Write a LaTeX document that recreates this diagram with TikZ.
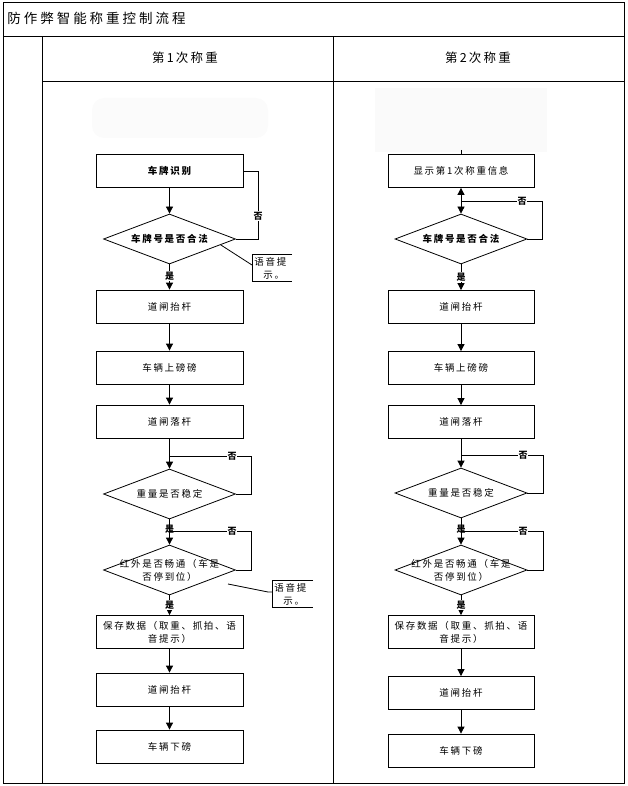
\documentclass[tikz,border=0pt]{standalone}
\usepackage{fontspec}
\setmainfont{Noto Sans CJK SC}
\newfontfamily\titlefont[LetterSpace=22]{Noto Sans CJK SC}
\newfontfamily\cjkfont[LetterSpace=18]{Noto Sans CJK SC}
\usetikzlibrary{shapes.geometric,arrows.meta,calc}
\begin{document}
\begin{tikzpicture}[x=1pt,y=-1pt,line width=0.8pt,
 box/.style={draw,minimum width=147pt,minimum height=33pt,inner sep=0pt,font=\cjkfont\fontsize{9.5}{13}\selectfont,align=center},
 rbox/.style={box,minimum width=146pt},
 dia/.style={draw,diamond,minimum width=132pt,minimum height=50pt,inner sep=0pt},
 txt/.style={font=\cjkfont\fontsize{9.5}{13}\selectfont,align=center,inner sep=0pt},
 yn/.style={font=\cjkfont\bfseries\fontsize{9}{10}\selectfont,fill=white,inner sep=0.6pt},
 arr/.style={-{Triangle[width=7pt,length=7pt]}},
 frame/.style={line width=1pt}]
\useasboundingbox (0,0) rectangle (627,786);
% faint smudges
\fill[gray!4] (375,88) rectangle (547,152);
\fill[gray!3,rounded corners=12pt] (92,98) rectangle (268,138);
% frame
\draw[frame] (3,3) rectangle (624,783);
\draw[frame] (3,37) -- (624,37);
\draw[frame] (42,82) -- (624,82);
\draw[frame] (42,37) -- (42,783);
\draw[frame] (333,37) -- (333,783);
\node[anchor=west,inner sep=0pt,font=\titlefont\fontsize{13.5}{15}\selectfont] (title) at (7,18) {防作弊智能称重控制流程};
\node[inner sep=0pt,font=\cjkfont\fontsize{12.5}{15}\selectfont] (h1) at (185,58) {第1次称重};
\node[inner sep=0pt,font=\cjkfont\fontsize{12.5}{15}\selectfont] (h2) at (478,58) {第2次称重};

% ---------- left column ----------
\node[box,font=\cjkfont\bfseries\fontsize{9.5}{13}\selectfont] (L1) at (169.5,171) {车牌识别};
\node[dia] (LD1) at (169.5,239) {};
\node[txt,font=\cjkfont\bfseries\fontsize{9.5}{13}\selectfont] (LD1t) at (LD1) {车牌号是否合法};
\node[box] (L2) at (169.5,306.5) {道闸抬杆};
\node[box] (L3) at (169.5,367.5) {车辆上磅磅};
\node[box] (L4) at (169.5,421.5) {道闸落杆};
\node[dia] (LD2) at (169.5,494) {};
\node[txt] (LD2t) at (LD2) {重量是否稳定};
\node[dia] (LD3) at (169.5,570) {};
\node[txt] (LD3t) at (LD3) {红外是否畅通（车是\\否停到位）};
\node[box] (L5) at (169.5,632) {保存数据（取重、抓拍、语\\音提示）};
\node[box] (L6) at (169.5,689.5) {道闸抬杆};
\node[box] (L7) at (169.5,746.5) {车辆下磅};

\draw[arr] (L1.south) -- (LD1.north);
\coordinate (la) at (258,171);
\coordinate (lb) at (258,239);
\draw (L1.east) -- (la) -- (lb) -- (LD1.east);
\node[yn] (n1) at (258,216) {否};
\draw[arr] (LD1.south) -- (L2.north);
\node[yn] (y1) at (169.5,276) {是};
\draw[arr] (L2.south) -- (L3.north);
\draw[arr] (L3.south) -- (L4.north);
\draw[arr] (L4.south) -- (LD2.north);
\coordinate (lc) at (251,494);
\coordinate (ld) at (251,456);
\coordinate (le) at (169.5,456);
\draw (LD2.east) -- (lc) -- (ld) -- (le);
\node[yn] (n2) at (232,456) {否};
\draw[arr] (LD2.south) -- (LD3.north);
\coordinate (lf) at (251,570);
\coordinate (lg) at (251,531);
\coordinate (lh) at (169.5,531);
\draw (LD3.east) -- (lf) -- (lg) -- (lh);
\node[yn] (n3) at (232,531) {否};
\node[yn,fill=none] (y2) at (169.5,529) {是};
\draw[arr] (LD3.south) -- (L5.north);
\node[yn] (y3) at (169.5,605) {是};
\draw[arr] (L5.south) -- (L6.north);
\draw[arr] (L6.south) -- (L7.north);

% callout 1
\coordinate (c1a) at (292,254);
\coordinate (c1b) at (252,254);
\coordinate (c1c) at (252,281);
\coordinate (c1d) at (292,281);
\draw (c1a) -- (c1b) -- (c1c) -- (c1d);
\coordinate (c1s) at ($(LD1.east)!0.23!(LD1.south)$);
\coordinate (c1e) at (252,265);
\draw (c1s) -- (c1e);
\node[txt,anchor=west] (c1t1) at (254,262) {语音提};
\node[txt,anchor=west] (c1t2) at (263,275) {示。};
% callout 2
\coordinate (c2a) at (313,580);
\coordinate (c2b) at (272,580);
\coordinate (c2c) at (272,607);
\coordinate (c2d) at (313,607);
\draw (c2a) -- (c2b) -- (c2c) -- (c2d);
\coordinate (c2s) at (228,584);
\coordinate (c2m) at (268,592);
\coordinate (c2e) at (272,592);
\draw (c2s) -- (c2m) -- (c2e);
\node[txt,anchor=west] (c2t1) at (274,588) {语音提};
\node[txt,anchor=west] (c2t2) at (283,601) {示。};

% ---------- right column ----------
\coordinate (rtop) at (461,150);
\node[rbox] (R1) at (461,171) {显示第1次称重信息};
\draw (rtop) -- (R1.north);
\node[dia] (RD1) at (461,239) {};
\node[txt,font=\cjkfont\bfseries\fontsize{9.5}{13}\selectfont] (RD1t) at (RD1) {车牌号是否合法};
\node[rbox] (R2) at (461,307) {道闸抬杆};
\node[rbox] (R3) at (461,368) {车辆上磅磅};
\node[rbox] (R4) at (461,422) {道闸落杆};
\node[dia] (RD2) at (461,493) {};
\node[txt] (RD2t) at (RD2) {重量是否稳定};
\node[dia] (RD3) at (461,570) {};
\node[txt] (RD3t) at (RD3) {红外是否畅通（车是\\否停到位）};
\node[rbox] (R5) at (461,632) {保存数据（取重、抓拍、语\\音提示）};
\node[rbox] (R6) at (461,693) {道闸抬杆};
\node[rbox] (R7) at (461,750.5) {车辆下磅};

\coordinate (J) at (461,201);
\draw[arr] (J) -- (R1.south);
\draw[arr] (J) -- (RD1.north);
\coordinate (ra) at (542,239);
\coordinate (rb) at (542,201);
\draw (RD1.east) -- (ra) -- (rb) -- (J);
\node[yn] (rn1) at (522,201) {否};
\draw[arr] (RD1.south) -- (R2.north);
\node[yn] (ry1) at (461,277) {是};
\draw[arr] (R2.south) -- (R3.north);
\draw[arr] (R3.south) -- (R4.north);
\draw[arr] (R4.south) -- (RD2.north);
\coordinate (rc) at (543,493);
\coordinate (rd) at (543,455);
\coordinate (re) at (461,455);
\draw (RD2.east) -- (rc) -- (rd) -- (re);
\node[yn] (rn2) at (523,455) {否};
\draw[arr] (RD2.south) -- (RD3.north);
\coordinate (rf) at (543,570);
\coordinate (rg) at (543,531);
\coordinate (rh) at (461,531);
\draw (RD3.east) -- (rf) -- (rg) -- (rh);
\node[yn] (rn3) at (523,531) {否};
\node[yn,fill=none] (ry2) at (461,529) {是};
\draw[arr] (RD3.south) -- (R5.north);
\node[yn] (ry3) at (461,605) {是};
\draw[arr] (R5.south) -- (R6.north);
\draw[arr] (R6.south) -- (R7.north);
\end{tikzpicture}
\end{document}
